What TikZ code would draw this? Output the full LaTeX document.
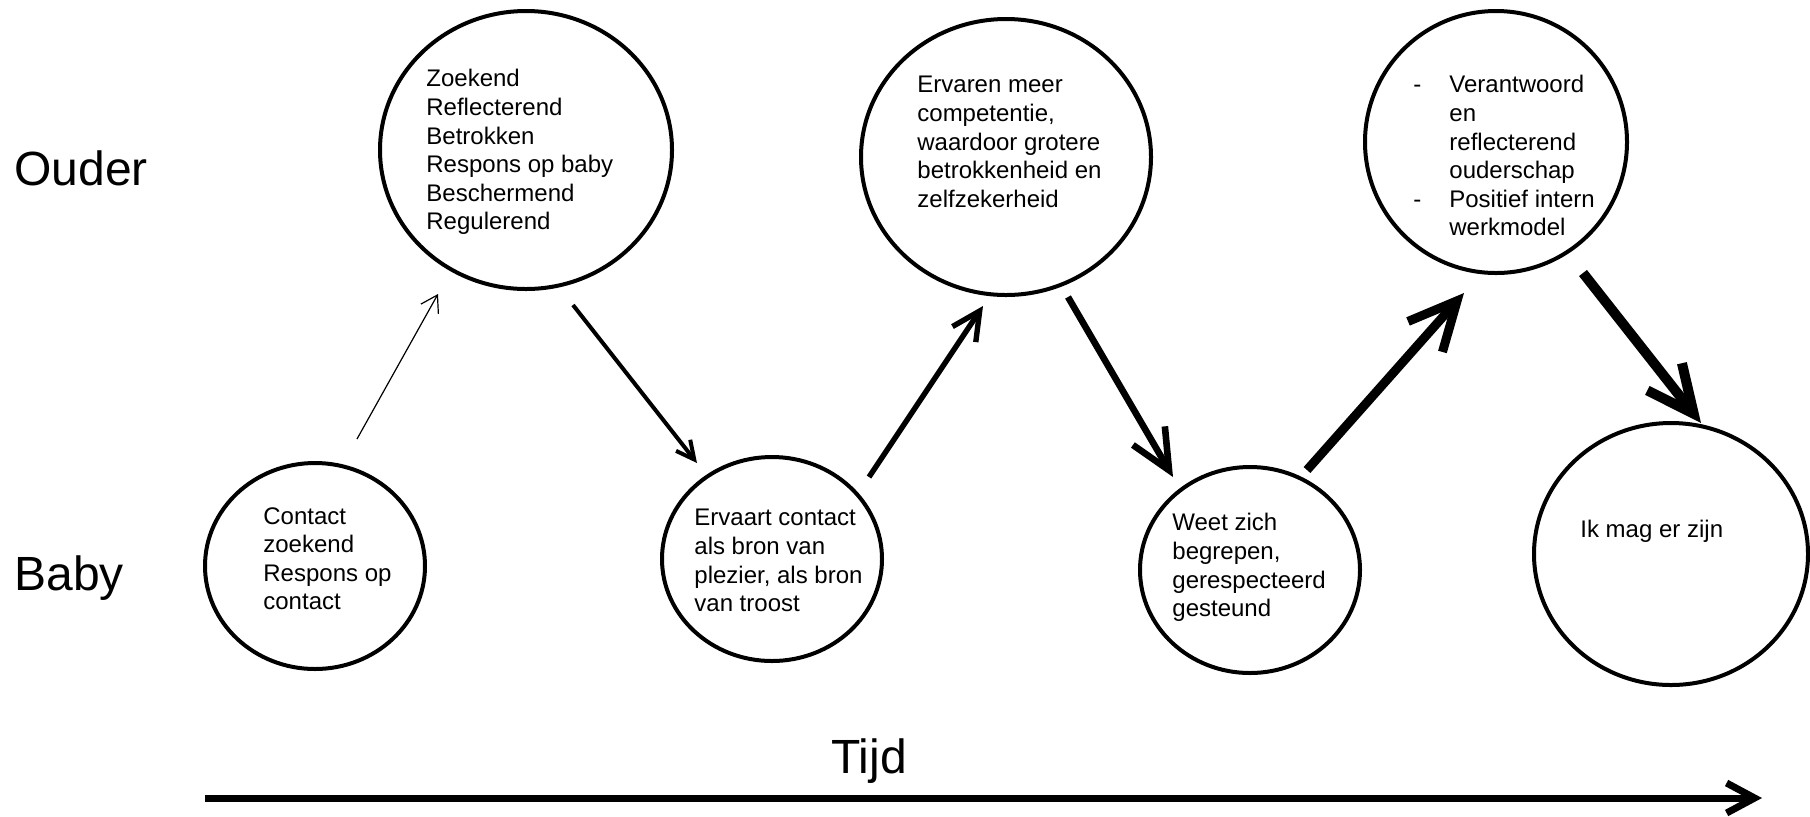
\documentclass[tikz,border=0pt]{standalone}
\usepackage{fontspec}
\setmainfont{Liberation Sans}
\usepackage{tikz}
\usetikzlibrary{arrows.meta}
\usetikzlibrary{shapes.geometric}
\tikzset{bubble/.style={ellipse,draw,line width=2pt,inner sep=0pt}}
\tikzset{bubbletext/.style={anchor=north west,inner sep=0pt,align=left,font=\fontsize{12}{14.3}\selectfont}}
\tikzset{rowlabel/.style={anchor=base west,inner sep=0pt,font=\fontsize{24}{28}\selectfont}}
\tikzset{pijl/.style n args={3}{line width=#1,-{Straight Barb[length=#2,width=#3]}}}
\newcommand{\streep}{\makebox[18pt][l]{-}}
\newcommand{\inspring}{\hspace*{18pt}}

\begin{document}
\begin{tikzpicture}[x=0.5pt,y=-0.5pt]
        \useasboundingbox (0,0) rectangle (1810,816);
        % bubbles
        \node[bubble,minimum width=146pt,minimum height=139pt] (o1) at (526,150) {};
        \node[bubble,minimum width=145pt,minimum height=138pt] (o2) at (1006,157) {};
        \node[bubble,minimum width=131pt,minimum height=131pt] (o3) at (1496,142) {};
        \node[bubble,minimum width=110pt,minimum height=103pt] (b1) at (315,566) {};
        \node[bubble,minimum width=110pt,minimum height=102pt] (b2) at (772,559) {};
        \node[bubble,minimum width=110pt,minimum height=103pt] (b3) at (1250,570) {};
        \node[bubble,minimum width=137pt,minimum height=131pt] (b4) at (1671,554) {};
        % texts
        \node[bubbletext] (o1t) at (426,69) {Zoekend\\Reflecterend\\Betrokken\\Respons op baby\\Beschermend\\Regulerend};
        \node[bubbletext] (o2t) at (917,76) {Ervaren meer\\competentie,\\waardoor grotere\\betrokkenheid en\\zelfzekerheid};
        \node[bubbletext] (o3t) at (1413,75) {\streep Verantwoord\\\inspring en\\\inspring reflecterend\\\inspring ouderschap\\\streep Positief intern\\\inspring werkmodel};
        \node[bubbletext] (b1t) at (263,507) {Contact\\zoekend\\Respons op\\contact};
        \node[bubbletext] (b2t) at (694,509) {Ervaart contact\\als bron van\\plezier, als bron\\van troost};
        \node[bubbletext] (b3t) at (1172,513) {Weet zich\\begrepen,\\gerespecteerd\\gesteund};
        \node[bubbletext] (b4t) at (1580,520) {Ik mag er zijn};
        % labels
        \node[rowlabel] (ouder) at (14,185) {Ouder};
        \node[rowlabel] (baby) at (14,590) {Baby};
        \node[rowlabel] (tijd) at (831,773) {Tijd};
        % arrows
        \coordinate (a1s) at (357,439);
        \coordinate (a1e) at (438,294);
        \coordinate (a2s) at (573,305);
        \coordinate (a2e) at (697,463);
        \coordinate (a3s) at (869,477);
        \coordinate (a3e) at (983,306);
        \coordinate (a4s) at (1068,297);
        \coordinate (a4e) at (1173,477);
        \coordinate (a5s) at (1307,470);
        \coordinate (a5e) at (1464,293);
        \coordinate (a6s) at (1583,273);
        \coordinate (a6e) at (1701,423);
        \coordinate (ts) at (205,798);
        \coordinate (te) at (1762,798);
        \draw[pijl={0.6pt}{8pt}{10pt}] (a1s) -- (a1e);
        \draw[pijl={2pt}{9pt}{9pt}] (a2s) -- (a2e);
        \draw[pijl={2.7pt}{14pt}{14pt}] (a3s) -- (a3e);
        \draw[pijl={3.3pt}{20pt}{18.5pt}] (a4s) -- (a4e);
        \draw[pijl={4.5pt}{24pt}{23pt}] (a5s) -- (a5e);
        \draw[pijl={5pt}{23.5pt}{22pt}] (a6s) -- (a6e);
        \draw[pijl={3.5pt}{14pt}{15pt}] (ts) -- (te);
    \end{tikzpicture}
\end{document}
